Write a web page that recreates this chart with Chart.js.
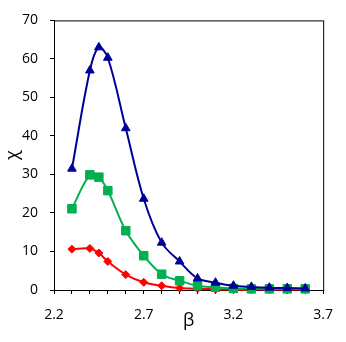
<!DOCTYPE html>
<html>
<head>
<meta charset="utf-8">
<script src="https://cdn.jsdelivr.net/npm/chart.js@4"></script>
<style>
body { margin: 0; background: #fff; }
#wrap { width: 346px; height: 342px; }
</style>
</head>
<body>
<div id="wrap"><canvas id="chart"></canvas></div>
<script>
// values
const beta = [2.3, 2.4, 2.45, 2.5, 2.6, 2.7, 2.8, 2.9, 3.0, 3.1, 3.2, 3.3, 3.4, 3.5, 3.6];
const chi_blue = [31.5, 57, 63, 60.3, 42, 23.7, 12.3, 7.4, 3.0, 1.9, 1.1, 0.8, 0.6, 0.5, 0.4];
const chi_green = [21.1, 29.9, 29.3, 25.8, 15.4, 8.9, 4.1, 2.4, 1.1, 0.7, 0.4, 0.3, 0.3, 0.3, 0.3];
const chi_red = [10.6, 10.8, 9.6, 7.4, 4.0, 2.0, 1.1, 0.5, 0.3, 0.2, 0.1, 0.1, 0.1, 0.1, 0.1];
const x_labels = [2.2, 2.7, 3.2, 3.7];

function to_points(ys) {
    return beta.map((b, i) => ({x: b, y: ys[i]}));
}

function make_set(ys, color, style, radius) {
    return {
        data: to_points(ys),
        borderColor: color,
        backgroundColor: color,
        borderWidth: 2,
        pointStyle: style,
        pointRadius: radius,
        pointHoverRadius: radius,
        pointBorderWidth: 1,
        tension: 0.35,
        showLine: true,
        clip: false
    };
}

const frame = {
    id: 'frame',
    beforeDatasetsDraw(chart) {
        const {ctx, chartArea: a} = chart;
        ctx.save();
        ctx.strokeStyle = '#000';
        ctx.lineWidth = 1;
        ctx.strokeRect(a.left + 0.5, a.top + 0.5, a.right - a.left, a.bottom - a.top);
        ctx.restore();
    }
};

const tick_font = {family: 'Open Sans', size: 14};

const cfg = {
    type: 'scatter',
    data: {
        datasets: [
            make_set(chi_blue, '#000099', 'triangle', 5),
            make_set(chi_green, '#00B050', 'rect', 6),
            make_set(chi_red, '#FF0000', 'rectRot', 4)
        ]
    },
    options: {
        responsive: true,
        maintainAspectRatio: false,
        animation: false,
        layout: {padding: {top: 12, right: 21, left: 0, bottom: 0}},
        plugins: {legend: {display: false}, tooltip: {enabled: false}},
        scales: {
            x: {
                type: 'linear',
                min: 2.2,
                max: 3.7,
                afterFit: s => { s.height = 52; },
                grid: {drawOnChartArea: false, tickLength: 4, color: '#000'},
                border: {color: '#000', width: 1},
                ticks: {
                    stepSize: 0.1,
                    autoSkip: false,
                    maxRotation: 0,
                    padding: 13,
                    color: '#000',
                    font: tick_font,
                    callback: v => {
                        const k = Math.round(v * 10);
                        return x_labels.some(l => Math.round(l * 10) === k) ? (k / 10).toFixed(1) : '';
                    }
                },
                title: {
                    display: true,
                    text: 'β',
                    color: '#000',
                    font: {family: 'Open Sans', size: 18},
                    padding: {top: 0, bottom: 10}
                }
            },
            y: {
                min: 0,
                max: 70,
                afterFit: s => { s.width = 54; },
                grid: {drawOnChartArea: false, tickLength: 4, color: '#000'},
                border: {color: '#000', width: 1},
                ticks: {stepSize: 10, padding: 12, color: '#000', font: tick_font},
                title: {
                    display: true,
                    text: 'χ',
                    color: '#000',
                    font: {family: 'Open Sans', size: 18},
                    padding: {top: 2, bottom: 0}
                }
            }
        }
    },
    plugins: [frame]
};

const chart_ctx = document.getElementById('chart').getContext('2d');
let chart = new Chart(chart_ctx, cfg);
</script>
</body>
</html>
